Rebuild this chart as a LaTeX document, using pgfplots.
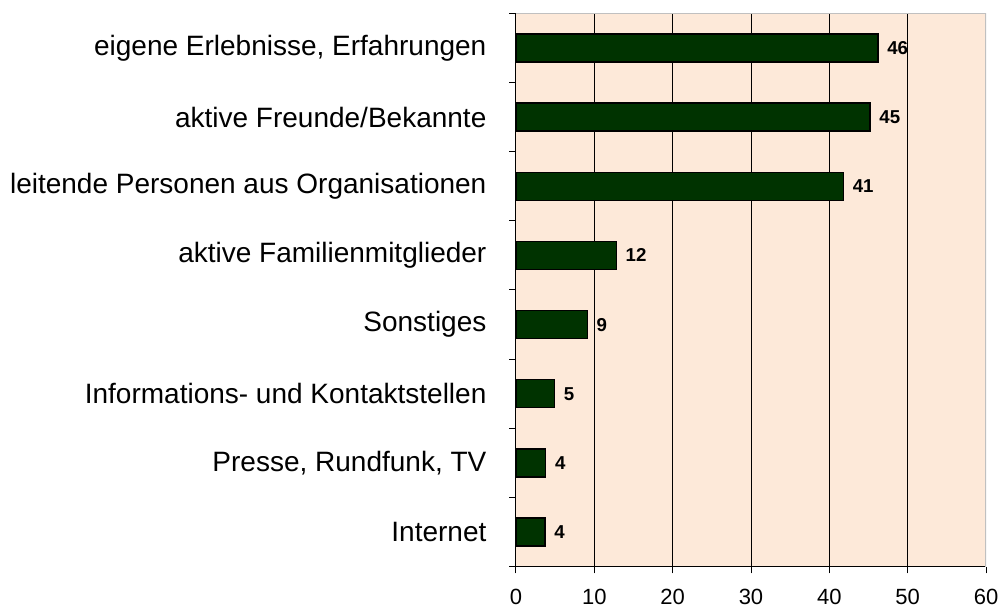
\documentclass[border=0pt]{standalone}
\usepackage{fontspec}
\setmainfont{Liberation Sans}
\usepackage{pgfplots}
\usepackage{pgfplotstable}
\pgfplotsset{compat=1.18}
\definecolor{barfill}{RGB}{0,51,0}
\definecolor{peach}{RGB}{253,233,217}
\definecolor{bordergray}{RGB}{192,192,192}
\pgfplotstableread{
y x lab
7 46.2 46
6 45.2 45
5 41.8 41
4 12.8 12
3 9.1 9
2 4.9 5
1 3.8 4
0 3.7 4
}\datatable
\begin{document}
\begin{tikzpicture}
\begin{axis}[
  name=ax,
  scale only axis,
  width=352.5pt, height=415pt,
  xmin=0, xmax=60, ymin=-0.5, ymax=7.5,
  axis lines=left,
  axis line style={-, black, line width=0.75pt},
  axis background/.style={fill=peach},
  xtick={0,10,...,60},
  minor xtick={10,20,...,50},
  minor x tick style={draw=none},
  xminorgrids,
  minor grid style={black, line width=0.6pt},
  tick align=outside,
  major tick length=5pt,
  minor tick length=5pt,
  tick style={black, line width=0.75pt},
  /pgf/number format/assume math mode=true,
  xticklabel style={font=\fontsize{16.5}{18}\selectfont, anchor=north, inner sep=0pt, yshift=-12pt},
  ytick={0,...,7},
  yticklabels={Internet, {Presse, Rundfunk, TV}, Informations- und Kontaktstellen, Sonstiges, aktive Familienmitglieder, leitende Personen aus Organisationen, aktive Freunde/Bekannte, {eigene Erlebnisse, Erfahrungen}},
  major y tick style={draw=none},
  minor ytick={-0.5,0.5,...,7.5},
  minor y tick style={draw=black, line width=0.75pt},
  yticklabel style={font=\fontsize{21}{24}\selectfont, anchor=east, inner sep=0pt, xshift=-17pt},
  point meta=explicit symbolic,
  nodes near coords,
  nodes near coords style={font=\fontsize{14}{16}\bfseries\selectfont, anchor=west, inner sep=0pt, xshift=6.5pt, text=black},
]
\addplot[xbar, bar width=21pt, fill=barfill, draw=black, line width=1.1pt]
  table[x=x, y=y, meta=lab] {\datatable};
\draw[bordergray, line width=1pt] (rel axis cs:0,1) -- (rel axis cs:1,1) -- (rel axis cs:1,0);
\end{axis}
\pgfresetboundingbox
\path ([shift={(-387pt,-32.5pt)}]ax.south west) rectangle ([shift={(15.75pt,10pt)}]ax.north east);
\end{tikzpicture}
\end{document}
